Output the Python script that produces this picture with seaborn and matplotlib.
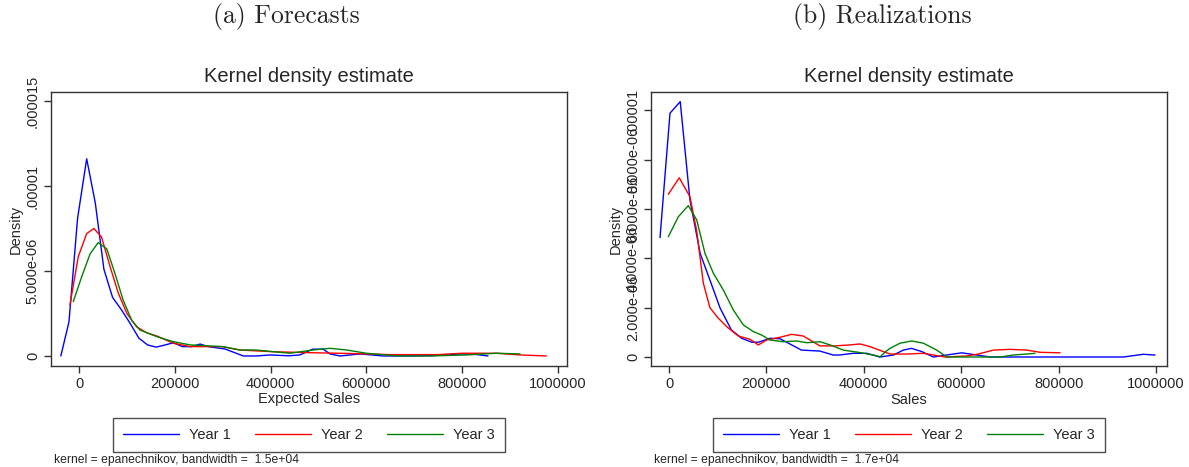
import pandas as pd
import matplotlib.pyplot as plt
import seaborn as sns

# Values (density curves per year)

# (a) Forecasts - Expected Sales
fx1 = [-38000, -21000, -3000, 16000, 34000, 52000, 70000, 89000, 106000, 125000, 143000, 161000,
       180000, 197000, 216000, 235000, 253000, 270000, 305000, 343000, 370000, 399000, 438000,
       461000, 488000, 510000, 524000, 545000, 587000, 635000, 690000, 738000, 795000, 823000, 854000]
fy1 = [0, 2.0e-6, 8.1e-6, 1.16e-5, 9.0e-6, 5.1e-6, 3.45e-6, 2.7e-6, 1.95e-6, 1.05e-6, 6.5e-7, 5.2e-7,
       6.5e-7, 7.8e-7, 5.5e-7, 5.5e-7, 7.0e-7, 5.5e-7, 4.1e-7, 0, 0, 6e-8, 1e-8,
       6e-8, 4e-7, 4e-7, 1.2e-7, 0, 1.2e-7, 0, 0, 2e-8, 1.2e-7, 1.1e-7, 0]

fx2 = [-19000, -1500, 16000, 31000, 47000, 65000, 82000, 100000, 120000, 141000, 162000, 197000,
       232000, 300000, 336000, 405000, 470000, 560000, 650000, 750000, 800000, 872000, 921000, 976000]
fy2 = [3.0e-6, 5.85e-6, 7.2e-6, 7.5e-6, 7.0e-6, 5.25e-6, 3.7e-6, 2.5e-6, 1.72e-6, 1.37e-6, 1.18e-6, 7.5e-7,
       5.5e-7, 5.5e-7, 3.5e-7, 2.5e-7, 2.0e-7, 1.5e-7, 8e-8, 8e-8, 1.6e-7, 1.6e-7, 6e-8, 0]

fx3 = [-12000, 5600, 23000, 40000, 58000, 75000, 92000, 110000, 127000, 162000, 197000, 232000,
       300000, 336000, 370000, 440000, 488000, 524000, 559000, 600000, 663000, 733000, 809000, 872000, 921000]
fy3 = [3.2e-6, 4.66e-6, 6.0e-6, 6.67e-6, 6.3e-6, 4.86e-6, 3.3e-6, 2.1e-6, 1.53e-6, 1.14e-6, 8.4e-7, 6.5e-7,
       5.5e-7, 3.5e-7, 3.5e-7, 1.6e-7, 3.5e-7, 4.5e-7, 3.5e-7, 1.6e-7, 0, 0, 6e-8, 1.6e-7, 1.2e-7]

# (b) Realizations - Sales
rx1 = [-18500, 2000, 23000, 43000, 64000, 84000, 105000, 128000, 149000, 170000, 184000, 207000,
       228000, 248000, 272000, 310000, 337000, 350000, 378000, 406000, 433000, 461000, 481000,
       498000, 519000, 543000, 570000, 601000, 632000, 660000, 933000, 974000, 998000]
ry1 = [4.84e-6, 9.89e-6, 1.036e-5, 6.37e-6, 4.2e-6, 3.12e-6, 1.98e-6, 1.1e-6, 7.6e-7, 6.0e-7, 6.0e-7, 7.6e-7,
       7.4e-7, 5.3e-7, 2.8e-7, 2.4e-7, 8e-8, 8e-8, 1.5e-7, 1.5e-7, 0, 8e-8, 2.8e-7,
       3.5e-7, 2.2e-7, 0, 8e-8, 1.7e-7, 8e-8, 0, 0, 1.1e-7, 8e-8]

rx2 = [-1400, 21000, 43000, 57000, 70400, 84000, 100000, 118500, 142300, 166300, 183400, 200600,
       227900, 251900, 275800, 310000, 340000, 371700, 392200, 412800, 440000, 454000, 488000,
       522000, 567000, 611000, 635000, 666000, 700000, 734500, 762000, 803000]
ry2 = [6.6e-6, 7.27e-6, 6.5e-6, 5.1e-6, 3.0e-6, 2.0e-6, 1.6e-6, 1.23e-6, 8.5e-7, 7.2e-7, 4.9e-7, 6.9e-7,
       8.0e-7, 9.2e-7, 8.5e-7, 4.5e-7, 4.5e-7, 4.9e-7, 5.3e-7, 4.2e-7, 2.2e-7, 1.2e-7, 1.2e-7,
       1.5e-7, 0, 4e-8, 1.2e-7, 2.8e-7, 3.1e-7, 2.8e-7, 1.9e-7, 1.7e-7]

rx3 = [-1400, 19100, 39600, 56900, 73900, 91000, 111500, 132000, 152600, 173100, 190300, 207400,
       234700, 262200, 282700, 310000, 330600, 357900, 392200, 426500, 433000, 445000, 453800, 474400,
       498400, 522200, 549700, 570300, 625000, 679600, 707000, 734500, 751600]
ry3 = [4.88e-6, 5.69e-6, 6.14e-6, 5.56e-6, 4.2e-6, 3.4e-6, 2.72e-6, 1.91e-6, 1.3e-6, 1.03e-6, 8.9e-7, 6.9e-7,
       6.2e-7, 6.5e-7, 5.8e-7, 6.2e-7, 4.9e-7, 2.8e-7, 1.8e-7, 5e-8, 0, 2.2e-7, 3.5e-7, 5.6e-7,
       6.5e-7, 5.6e-7, 2.8e-7, 0, 0, 0, 8e-8, 1.2e-7, 1.5e-7]

years = ["Year 1", "Year 2", "Year 3"]
colors = ["#0000ff", "#ff0000", "#008000"]

left_ticks = [0, 5e-6, 1e-5, 1.5e-5]
left_labels = ["0", "5.000e-06", ".00001", ".000015"]
right_ticks = [0, 2e-6, 4e-6, 6e-6, 8e-6, 1e-5]
right_labels = ["0", "2.000e-06", "4.000e-06", "6.000e-06", "8.000e-06", ".00001"]
x_ticks = [0, 200000, 400000, 600000, 800000, 1000000]


def long_df(xs, ys):
    parts = []
    for name, x, y in zip(years, xs, ys):
        parts.append(pd.DataFrame({"x": x, "y": y, "year": name}))
    return pd.concat(parts, ignore_index=True)


df_f = long_df([fx1, fx2, fx3], [fy1, fy2, fy3])
df_r = long_df([rx1, rx2, rx3], [ry1, ry2, ry3])

sns.set_style("ticks")
plt.rcParams["font.family"] = ["Liberation Sans", "DejaVu Sans"]

fig = plt.figure(figsize=(11.89, 4.67), dpi=100)
ax1 = fig.add_axes([51 / 1189, 1 - 366 / 467, 516 / 1189, 274 / 467])
ax2 = fig.add_axes([651 / 1189, 1 - 366 / 467, 516 / 1189, 274 / 467])

panels = [
    (ax1, df_f, "Expected Sales", left_ticks, left_labels, (-58500, 1019000), (-5.9e-7, 1.553e-5),
     "kernel = epanechnikov, bandwidth =  1.5e+04", "(a) Forecasts", 286),
    (ax2, df_r, "Sales", right_ticks, right_labels, (-37000, 1022600), (-3.65e-7, 1.075e-5),
     "kernel = epanechnikov, bandwidth =  1.7e+04", "(b) Realizations", 882),
]

for ax, d, xlab, yt, yl, xlim, ylim, note, caption, cap_x in panels:
    sns.lineplot(data=d, x="x", y="y", hue="year", palette=colors, hue_order=years,
                 estimator=None, sort=False, linewidth=1.0, ax=ax)
    ax.set_xlim(*xlim)
    ax.set_ylim(*ylim)
    ax.set_xticks(x_ticks)
    ax.set_xticklabels([str(t) for t in x_ticks], fontsize=10.5)
    ax.set_yticks(yt)
    ax.set_yticklabels(yl, rotation=90, va="center", fontsize=10.5)
    ax.tick_params(length=5, width=1, color="#333333", pad=3)
    for s in ax.spines.values():
        s.set_color("#333333")
        s.set_linewidth(1.0)
    ax.set_title("Kernel density estimate", fontsize=14.5, pad=7)
    ax.set_xlabel(xlab, fontsize=10.5, labelpad=1)
    ax.set_ylabel("Density", fontsize=10.5)
    ax.yaxis.set_label_coords(-0.054, 0.5)

    pos = ax.get_position()
    cx = (pos.x0 + pos.x1) / 2
    ax.legend(loc="center", bbox_to_anchor=(cx, 1 - 435 / 467), bbox_transform=fig.transFigure,
              ncol=3, frameon=True, fancybox=False, edgecolor="#222222", fontsize=10.5,
              handlelength=3.8, columnspacing=1.7, handletextpad=0.7, borderpad=0.7)
    ax.get_legend().get_frame().set_linewidth(1.0)

    fig.text(pos.x0 + 3 / 1189, 1 - 460 / 467, note, fontsize=8.7, va="center", ha="left")
    fig.text(cap_x / 1189, 1 - 16 / 467, caption, fontsize=18.5, family="cmr10",
             ha="center", va="center")

fig.savefig("out.png", dpi=100)
